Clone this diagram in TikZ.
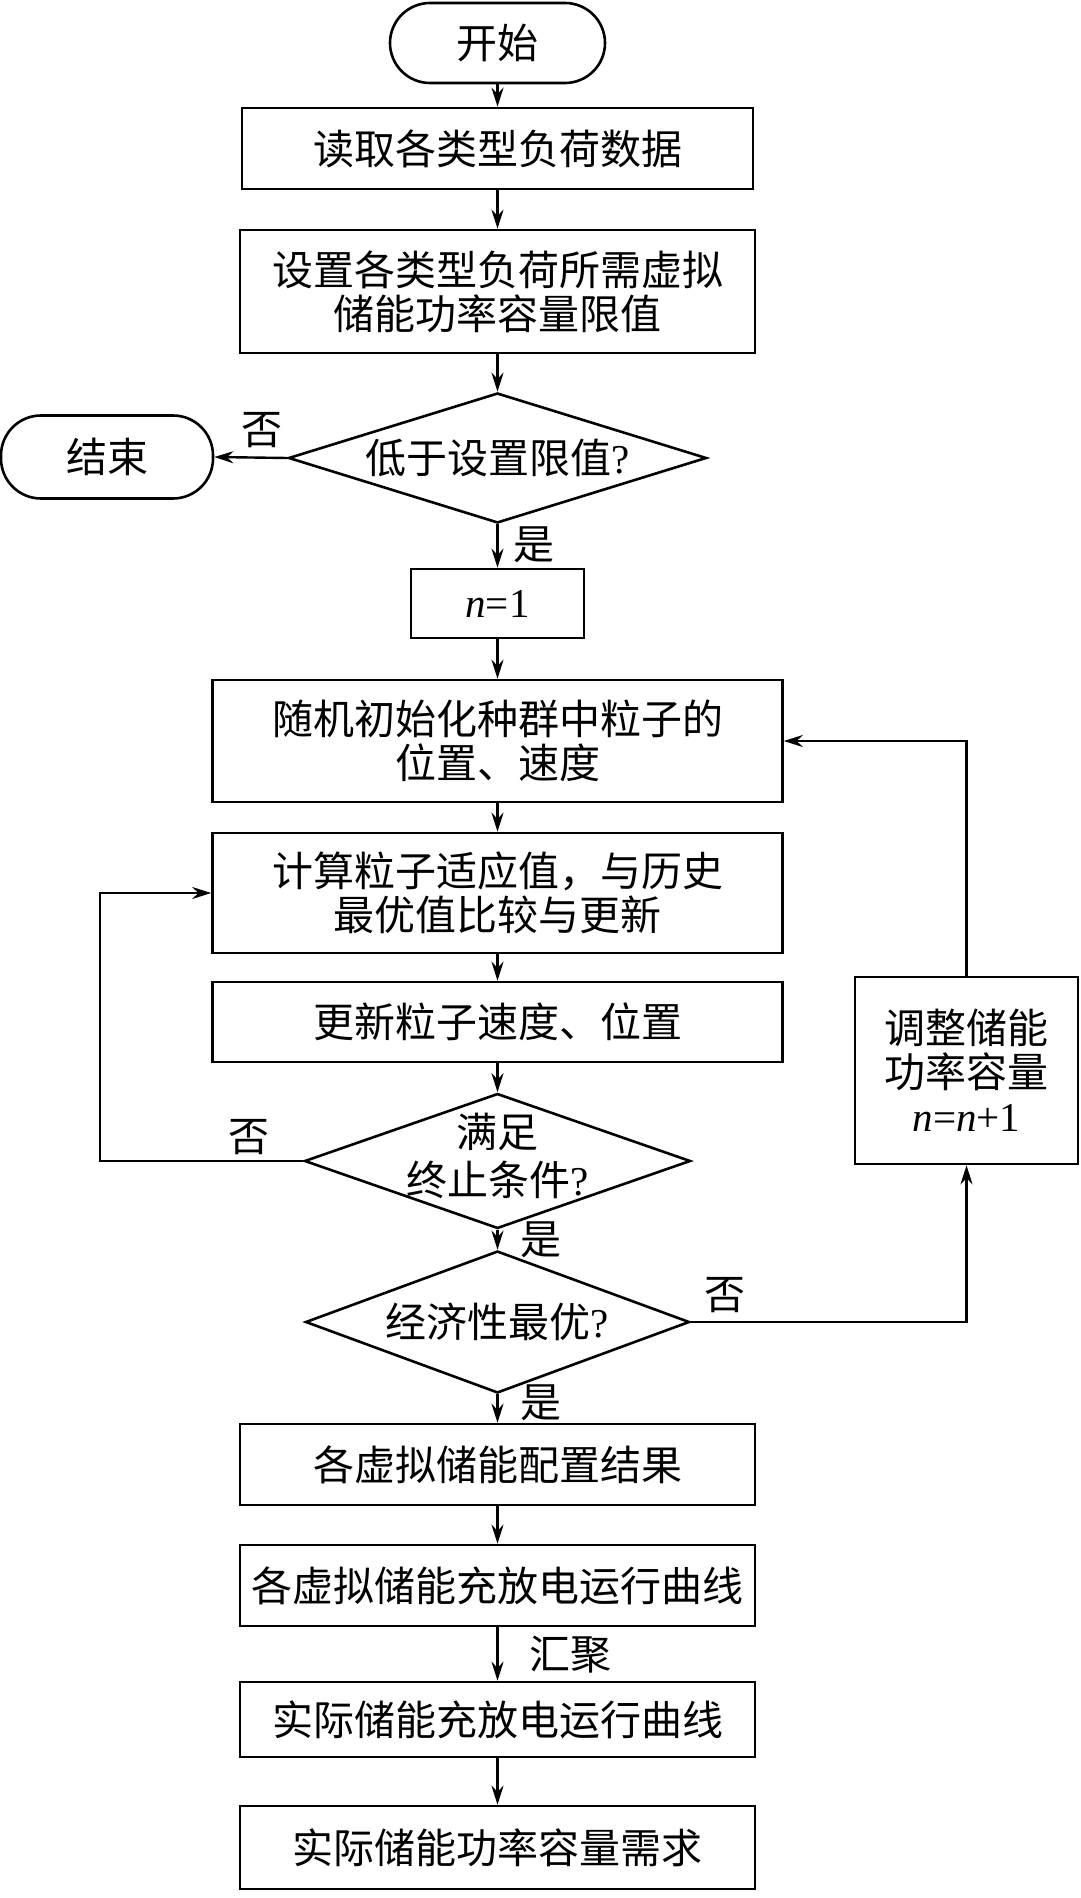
\documentclass[tikz,border=0pt]{standalone}
\usepackage{fontspec}
\setmainfont{Noto Sans CJK SC}
\newfontfamily\latin{Liberation Serif}
\usetikzlibrary{arrows.meta,shapes.geometric}

\begin{document}
\begin{tikzpicture}[x=0.5pt,y=-0.5pt,
  box/.style={draw,line width=1.3pt,inner sep=0pt,align=center,font=\fontsize{20.5}{22}\selectfont},
  term/.style={box,rounded corners=20pt},
  dec/.style={box,diamond},
  arr/.style={line width=1.2pt,-{Stealth[length=9.5pt,width=6pt]}},
  lbl/.style={inner sep=0pt,font=\fontsize{20.5}{22}\selectfont}]
\useasboundingbox (0,0) rectangle (1080,1898);

\node[term,minimum width=107.5pt,minimum height=40pt] (start) at (497.5,43) {开始};
\node[box,minimum width=255.5pt,minimum height=40.5pt] (read) at (497.5,148.5) {读取各类型负荷数据};
\node[box,minimum width=257.5pt,minimum height=61.5pt] (limit) at (497.5,291.5) {设置各类型负荷所需虚拟\\储能功率容量限值};
\node[dec,minimum width=209pt,minimum height=65pt] (below) at (497.5,458) {\makebox[0pt]{低于设置限值{\latin ?}}};
\node[term,minimum width=106pt,minimum height=41.5pt] (stop) at (107,457) {结束};
\node[box,minimum width=86.5pt,minimum height=34.5pt] (init) at (497.5,603.5) {{\latin\itshape n}{\latin =1}};
\node[box,minimum width=285pt,minimum height=61pt] (swarm) at (497.5,741) {随机初始化种群中粒子的\\位置、速度};
\node[box,minimum width=285pt,minimum height=60pt] (fit) at (497.5,893) {计算粒子适应值，与历史\\最优值比较与更新};
\node[box,minimum width=285pt,minimum height=40pt] (move) at (497.5,1022) {更新粒子速度、位置};
\node[dec,minimum width=193pt,minimum height=67.5pt] (stopc) at (497.5,1161) {\makebox[0pt]{\begin{tabular}{@{}c@{}}满足\\终止条件{\latin ?}\end{tabular}}};
\node[dec,minimum width=192pt,minimum height=71pt] (cost) at (497.5,1322) {\makebox[0pt]{经济性最优{\latin ?}}};
\node[box,minimum width=111.5pt,minimum height=93.5pt] (adjust) at (966.5,1070.5) {调整储能\\功率容量\\{\latin\itshape n}{\latin =}{\latin\itshape n}{\latin +1}};
\node[box,minimum width=257.5pt,minimum height=40.5pt] (result) at (497.5,1464.5) {各虚拟储能配置结果};
\node[box,minimum width=257.5pt,minimum height=40.5pt] (vcurve) at (497.5,1585.5) {各虚拟储能充放电运行曲线};
\node[box,minimum width=257.5pt,minimum height=37.5pt] (rcurve) at (497.5,1719.5) {实际储能充放电运行曲线};
\node[box,minimum width=257.5pt,minimum height=41.5pt] (need) at (497.5,1847.5) {实际储能功率容量需求};
\coordinate (loop) at (100,1161);

\draw[arr] (start) -- (read);
\draw[arr] (read) -- (limit);
\draw[arr] (limit) -- (below);
\draw[arr] (below.west) -- (stop.east);
\draw[arr] (below.south) -- (init.north);
\draw[arr] (init) -- (swarm);
\draw[arr] (swarm) -- (fit);
\draw[arr] (fit) -- (move);
\draw[arr] (move) -- (stopc.north);
\draw[arr] (stopc.south) -- (cost.north);
\draw[arr] (stopc.west) -- (loop) |- (fit.west);
\draw[arr] (cost.east) -| (adjust.south);
\draw[arr] (adjust.north) |- (swarm.east);
\draw[arr] (cost.south) -- (result.north);
\draw[arr] (result) -- (vcurve);
\draw[arr] (vcurve) -- (rcurve);
\draw[arr] (rcurve) -- (need);

\node[lbl] (no1) at (262,430) {否};
\node[lbl] (yes1) at (534,545) {是};
\node[lbl] (no2) at (249,1137) {否};
\node[lbl] (yes2) at (541,1240) {是};
\node[lbl] (no3) at (725,1295) {否};
\node[lbl] (yes3) at (541,1403) {是};
\node[lbl] (merge) at (570,1655) {汇聚};
\end{tikzpicture}
\end{document}
